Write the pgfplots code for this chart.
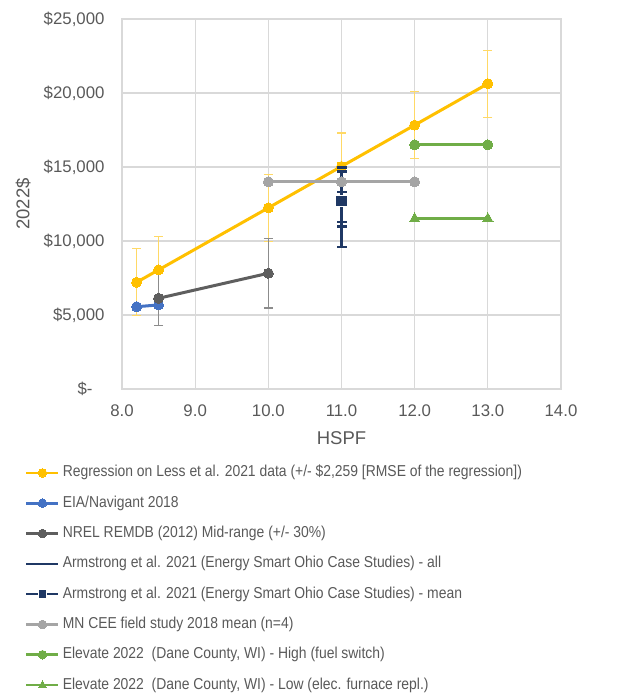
\documentclass[border=0pt]{standalone}
\usepackage{pgfplots}
\pgfplotsset{compat=1.18}
\usepackage{fontspec}
\setmainfont{Liberation Sans}
\newfontfamily\legfont[FakeStretch=0.88]{Liberation Sans}
\definecolor{cyel}{HTML}{FFC000}
\definecolor{cyerr}{HTML}{FFD966}
\definecolor{cblue}{HTML}{4472C4}
\definecolor{cdgray}{HTML}{5E5E5E}
\definecolor{cdgerr}{HTML}{8C8C8C}
\definecolor{cnavy}{HTML}{1F3864}
\definecolor{clgray}{HTML}{A5A5A5}
\definecolor{cgreen}{HTML}{70AD47}
\definecolor{cgrid}{HTML}{D9D9D9}
\definecolor{ctext}{HTML}{595959}
\begin{document}
\begin{tikzpicture}
\begin{axis}[
  at={(0,0)}, anchor=south west,
  scale only axis, width=439pt, height=370pt,
  xmin=8, xmax=14, ymin=0, ymax=25000,
  xtick={8,9,10,11,12,13,14},
  xticklabels={8.0,9.0,10.0,11.0,12.0,13.0,14.0},
  ytick={0,5000,10000,15000,20000,25000},
  yticklabels={\$-\rule{12pt}{0pt},{\$5,000},{\$10,000},{\$15,000},{\$20,000},{\$25,000}},
  scaled y ticks=false,
  major tick length=0pt,
  grid=major, grid style={cgrid, line width=1.3pt},
  axis line style={cgrid, line width=1.3pt},
  tick label style={font=\fontsize{16.8}{20}\selectfont, text=ctext},
  xticklabel style={yshift=-12pt},
  yticklabel style={xshift=-14pt},
  xlabel={HSPF}, ylabel={2022\$},
  label style={font=\fontsize{18.5}{22}\selectfont, text=ctext},
  xlabel style={at={(axis description cs:0.5,-0.134)}, anchor=center},
  ylabel style={at={(axis description cs:-0.225,0.5)}, anchor=center},
  legend cell align=left,
  legend style={at={(axis description cs:-0.221,-0.206)}, anchor=north west,
    draw=none, fill=none, inner sep=0pt, row sep=15.3pt,
    font=\legfont\fontsize{15.8}{18}\selectfont, text=ctext,
    nodes={inner sep=0pt, text height=11.5pt, text depth=3.5pt},
    /tikz/every odd column/.append style={column sep=3pt}},
  legend image code/.code={\draw[mark repeat=2, mark phase=2, mark size=4.3pt, line width=2.6pt] plot coordinates {(0pt,0pt) (16pt,0pt) (32pt,0pt)};},
]
% Regression
\addplot[cyel, line width=3pt, mark=*, mark size=5pt, mark options={fill=cyel, draw=cyel, line width=0pt},
  error bars/.cd, y dir=both, y explicit,
  error bar style={line width=1.2pt, color=cyerr},
  error mark options={line width=1.2pt, mark size=4.5pt, color=cyerr, rotate=90}]
  table[x=x, y=y, y error=e] {
x y e
8.2 7210 2259
8.5 8050 2259
10 12240 2259
11 15040 2259
12 17830 2259
13 20630 2259
};
\addlegendentry{Regression on Less et al. 2021 data (+/- \$2,259 [RMSE of the regression])}
% EIA
\addplot[cblue, line width=3pt, mark=*, mark size=5pt, mark options={fill=cblue, draw=cblue, line width=0pt}]
  table[x=x, y=y] {
x y
8.2 5560
8.5 5680
};
\addlegendentry{EIA/Navigant 2018}
% NREL
\addplot[cdgray, line width=3pt, mark=*, mark size=5pt, mark options={fill=cdgray, draw=cdgray, line width=0pt},
  error bars/.cd, y dir=both, y explicit,
  error bar style={line width=1.2pt, color=cdgerr},
  error mark options={line width=1.2pt, mark size=4.5pt, color=cdgerr, rotate=90}]
  table[x=x, y=y, y error=e] {
x y e
8.5 6130 1839
10 7820 2346
};
\addlegendentry{NREL REMDB (2012) Mid-range (+/- 30\%)}
% Armstrong all
\addplot[cnavy, line width=3pt, mark=-, mark size=5pt, mark options={line width=2.5pt}]
  table[x=x, y=y] {
x y
11 9600
11 10970
11 11300
11 13310
11 14680
11 14950
};
\addlegendentry{Armstrong et al. 2021 (Energy Smart Ohio Case Studies) - all}
% Armstrong mean
\addplot[cnavy, line width=3pt, mark=square*, mark size=5.8pt, mark options={fill=cnavy, draw=white, line width=1pt}]
  table[x=x, y=y] {
x y
11 12700
};
\addlegendentry{Armstrong et al. 2021 (Energy Smart Ohio Case Studies) - mean}
% MN CEE
\addplot[clgray, line width=3pt, mark=*, mark size=5pt, mark options={fill=clgray, draw=clgray, line width=0pt}]
  table[x=x, y=y] {
x y
10 14000
11 14000
12 14000
};
\addlegendentry{MN CEE field study 2018 mean (n=4)}
% Elevate high
\addplot[cgreen, line width=3pt, mark=*, mark size=5pt, mark options={fill=cgreen, draw=cgreen, line width=0pt}]
  table[x=x, y=y] {
x y
12 16500
13 16500
};
\addlegendentry{Elevate 2022\ \ (Dane County, WI) - High (fuel switch)}
% Elevate low
\addplot[cgreen, line width=3pt, mark=triangle*, mark size=6pt, mark options={fill=cgreen, draw=cgreen, line width=0pt}]
  table[x=x, y=y] {
x y
12 11500
13 11500
};
\addlegendentry{Elevate 2022\ \ (Dane County, WI) - Low (elec. furnace repl.)}
\end{axis}
\pgfresetboundingbox
\useasboundingbox (-122pt,-306pt) rectangle (516pt,389pt);
\end{tikzpicture}
\end{document}
